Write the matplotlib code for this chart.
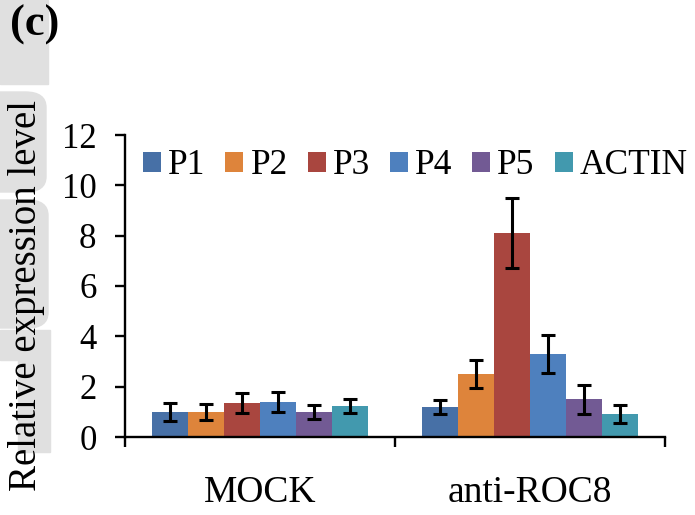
import numpy as np
import matplotlib
matplotlib.use("Agg")
import matplotlib.pyplot as plt
from matplotlib.patches import Rectangle, FancyBboxPatch

plt.rcParams["font.family"] = ["Liberation Serif", "DejaVu Serif"]

groups = ["MOCK", "anti-ROC8"]
series = ["P1", "P2", "P3", "P4", "P5", "ACTIN"]
means = {
    "P1": [1.00, 1.20],
    "P2": [1.00, 2.50],
    "P3": [1.36, 8.10],
    "P4": [1.40, 3.30],
    "P5": [1.00, 1.50],
    "ACTIN": [1.23, 0.93],
}
errors = {
    "P1": [0.37, 0.28],
    "P2": [0.33, 0.57],
    "P3": [0.40, 1.40],
    "P4": [0.40, 0.74],
    "P5": [0.28, 0.58],
    "ACTIN": [0.28, 0.36],
}
colors = ["#4770A6", "#DE843B", "#A9463F", "#4E80BE", "#725A94", "#4299AE"]

W, H = 695, 515
fig = plt.figure(figsize=(W / 100, H / 100), dpi=100)

# faint watermark strip on the left edge (pixel boxes: x, y_top, w, h)
wm = "#E0E0E0"
def px_rect(x0, ytop, w, h, rounded=False):
    xy = (x0 / W, 1 - (ytop + h) / H)
    if rounded:
        p = FancyBboxPatch(xy, w / W, h / H,
                           boxstyle="round,pad=0,rounding_size=0.03",
                           transform=fig.transFigure, color=wm, zorder=-5)
    else:
        p = Rectangle(xy, w / W, h / H, transform=fig.transFigure,
                      color=wm, zorder=-5)
    fig.patches.append(p)

px_rect(0, 0, 48, 84)
px_rect(-30, 92, 76, 100, rounded=True)
px_rect(-30, 200, 78, 128, rounded=True)
px_rect(0, 330, 20, 30)
px_rect(18, 330, 32, 122)

ax = fig.add_axes([125 / W, 78 / H, 540 / W, 302 / H])
ax.patch.set_alpha(0)

x = np.arange(len(groups))
w = 0.133
for i, s in enumerate(series):
    pos = x + (i - 2.5) * w
    ax.bar(pos, means[s], w, color=colors[i], label=s, zorder=2)
    ax.errorbar(pos, means[s], yerr=errors[s], fmt="none", ecolor="black",
                elinewidth=2.2, capsize=4.8, capthick=2.2, zorder=3)

ax.set_xlim(-0.5, 1.5)
ax.set_ylim(0, 12)
ax.set_yticks(range(0, 13, 2))
ax.set_xticks([-0.5, 0.5, 1.5])
ax.set_xticklabels([])
ax.set_xticks(x, minor=True)
ax.set_xticklabels(groups, minor=True)
ax.tick_params(axis="x", which="minor", length=0, pad=28, labelsize=27)
ax.tick_params(axis="x", which="major", length=7.5, width=1.7, direction="out")
ax.tick_params(axis="y", length=7.5, width=1.7, direction="out",
               labelsize=25, pad=13)

for side in ["top", "right"]:
    ax.spines[side].set_visible(False)
for side in ["left", "bottom"]:
    ax.spines[side].set_linewidth(1.7)

ax.set_ylabel("Relative expression level", fontsize=28)
ax.yaxis.set_label_coords((45 - 125) / 540, 0.467)

ax.legend(loc="center left", bbox_to_anchor=(18 / 540, (437 - 166) / 302),
          ncol=6, frameon=False, fontsize=25.5, handlelength=0.51,
          handleheight=0.51, handletextpad=0.2, columnspacing=0.56,
          borderaxespad=0, borderpad=0)

fig.text(10 / W, 1 - 25 / H, "(c)", fontsize=32, fontweight="bold",
         va="center", ha="left")

fig.savefig("out.png", dpi=100)
